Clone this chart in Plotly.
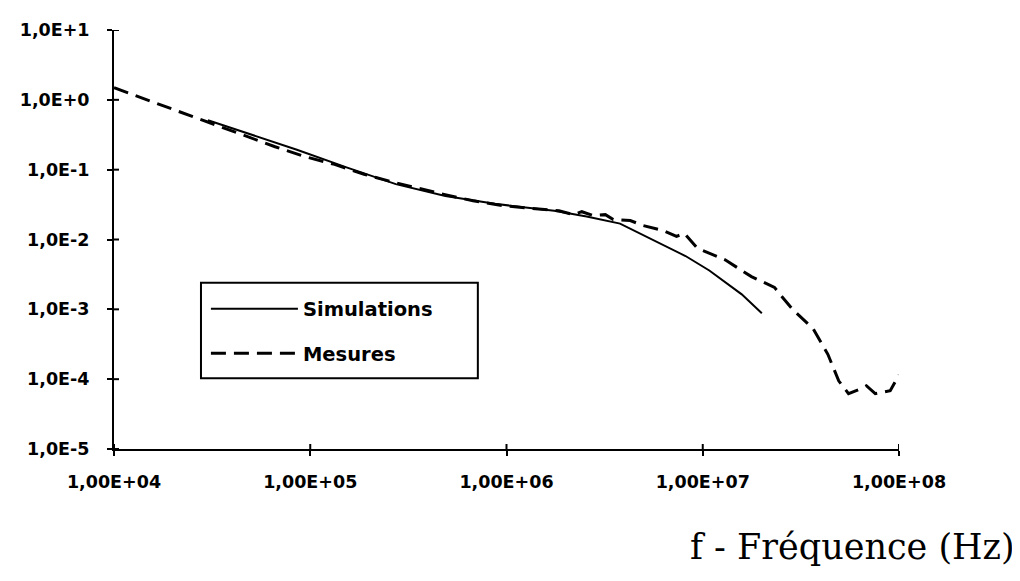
import plotly.graph_objects as go

# ---- data ----
sim_freq = [3.01e4, 4.79e4, 8.55e4, 1.53e5, 2.73e5, 4.88e5, 8.71e5, 1.75e6, 2.56e6,
            3.79e6, 5.57e6, 8.17e6, 1.08e7, 1.58e7, 2.0e7]
sim_vals = [0.511, 0.335, 0.193, 0.108, 0.0621, 0.0421, 0.0324, 0.0258, 0.0213,
            0.0169, 0.0098, 0.0058, 0.0036, 0.00164, 0.00088]

meas_freq = [1e4, 3.01e4, 4.62e4, 6.62e4, 9.38e4, 1.33e5, 1.88e5, 2.64e5, 4.93e5, 6.75e5,
             9.66e5, 1.85e6, 2.20e6, 2.42e6, 2.77e6, 3.19e6, 3.50e6, 4.27e6, 4.95e6,
             6.25e6, 7.35e6, 8.07e6, 9.38e6, 1.30e7, 1.77e7, 2.32e7, 2.52e7, 2.89e7,
             3.65e7, 4.34e7, 4.93e7, 5.53e7, 6.21e7, 6.82e7, 7.57e7, 9.02e7, 1e8]
meas_vals = [1.49, 0.479, 0.314, 0.213, 0.154, 0.119, 0.0859, 0.0663, 0.0435, 0.0358,
             0.0304, 0.0258, 0.0227, 0.0250, 0.0220, 0.0227, 0.0193, 0.0187, 0.0159,
             0.0135, 0.0111, 0.0122, 0.00753, 0.00511, 0.00294, 0.00206, 0.00154, 0.000977,
             0.000528, 0.000227, 9.46e-5, 6.21e-5, 7.07e-5, 8.05e-5, 6.21e-5, 6.84e-5, 1.15e-4]

x_tickvals = [1e4, 1e5, 1e6, 1e7, 1e8]
x_ticktext = ["1,00E+04", "1,00E+05", "1,00E+06", "1,00E+07", "1,00E+08"]
y_tickvals = [1e1, 1e0, 1e-1, 1e-2, 1e-3, 1e-4, 1e-5]
y_ticktext = ["1,0E+1", "1,0E+0", "1,0E-1", "1,0E-2", "1,0E-3", "1,0E-4", "1,0E-5"]

series_names = ["Simulations", "Mesures"]
x_title = "f - Fréquence (Hz)"

tick_font = dict(family="DejaVu Sans", size=17.5, color="black", weight="bold")

fig = go.Figure()
fig.add_trace(go.Scatter(x=sim_freq, y=sim_vals, mode="lines", name=series_names[0],
                         legendgroup="a",
                         line=dict(color="black", width=2)))
fig.add_trace(go.Scatter(x=meas_freq, y=meas_vals, mode="lines", name=series_names[1],
                         legendgroup="b",
                         line=dict(color="black", width=3, dash="15px,8px")))

# inner half of the crossing tick marks (the outer half comes from the axes)
tick_shapes = []
for v in x_tickvals:
    tick_shapes.append(dict(type="line", xref="x", x0=v, x1=v,
                            yref="paper", ysizemode="pixel", yanchor=0, y0=0, y1=5,
                            line=dict(color="black", width=2)))
for v in y_tickvals:
    tick_shapes.append(dict(type="line", yref="y", y0=v, y1=v,
                            xref="paper", xsizemode="pixel", xanchor=0, x0=0, x1=5,
                            line=dict(color="black", width=2)))

legend_box = dict(type="rect", xref="paper", yref="paper",
                  x0=0.1108, x1=0.4635, y0=0.1690, y1=0.3967,
                  line=dict(color="black", width=2), fillcolor="rgba(0,0,0,0)",
                  layer="above")

fig.update_layout(
    width=1012, height=573,
    margin=dict(l=97, r=121, t=15, b=132),
    paper_bgcolor="white", plot_bgcolor="white",
    xaxis=dict(type="log", range=[4, 8], tickvals=x_tickvals, ticktext=x_ticktext,
               showgrid=False, zeroline=False, showline=True, linecolor="black",
               linewidth=2, ticks="outside", ticklen=5, tickwidth=2, tickcolor="black",
               tickfont=tick_font, ticklabelstandoff=11),
    yaxis=dict(type="log", range=[-5, 1], tickvals=y_tickvals, ticktext=y_ticktext,
               showgrid=False, zeroline=False, showline=True, linecolor="black",
               linewidth=2, ticks="outside", ticklen=5, tickwidth=2, tickcolor="black",
               tickfont=tick_font, ticklabelstandoff=14),
    showlegend=True,
    legend=dict(x=0.1171, y=0.3803, xanchor="left", yanchor="top",
                bgcolor="rgba(0,0,0,0)", borderwidth=0,
                font=dict(family="DejaVu Sans", size=19.5, color="black", weight="bold"),
                itemwidth=87, tracegroupgap=16, traceorder="grouped"),
    shapes=tick_shapes + [legend_box],
    annotations=[dict(text=x_title, xref="paper", yref="paper", x=1.1499, y=-0.2347,
                      xanchor="right", yanchor="middle", showarrow=False,
                      font=dict(family="DejaVu Serif", size=35, color="black"))],
)

fig.write_html("out.html")
